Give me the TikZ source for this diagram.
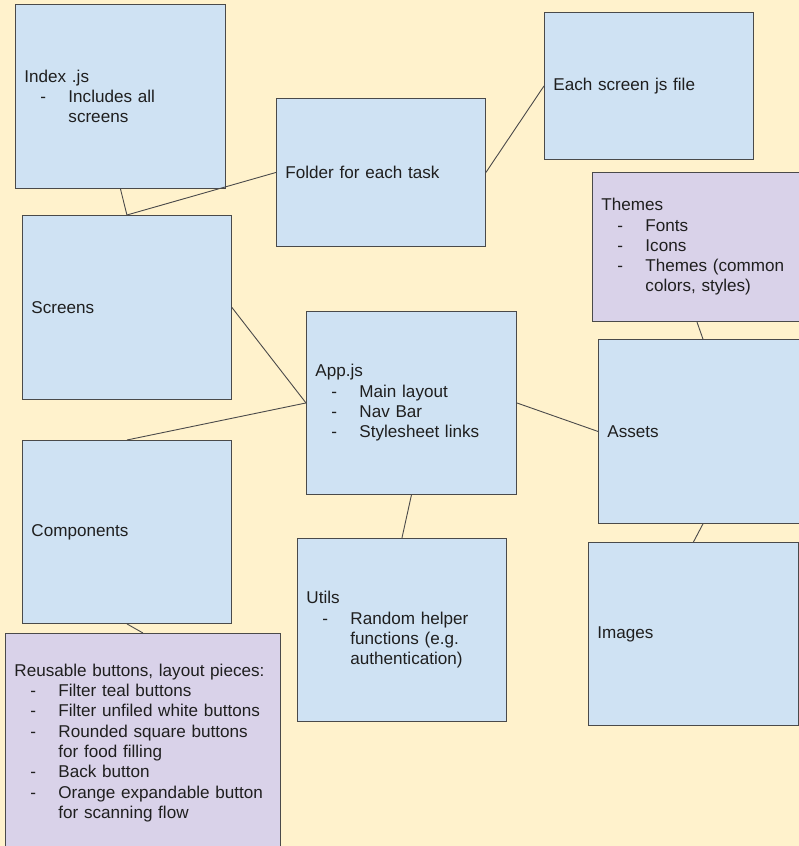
\documentclass[tikz,border=0pt]{standalone}
\usepackage{fontspec}
\setmainfont{Liberation Sans}
\definecolor{bgc}{HTML}{FFF2CC}
\definecolor{bluec}{HTML}{CFE2F3}
\definecolor{purpc}{HTML}{D9D2E9}
\definecolor{bordc}{HTML}{4A4A4A}
\definecolor{linec}{HTML}{4A4A4A}
\definecolor{txtc}{HTML}{1F1F1F}
\newcommand\bitem[1]{\hspace*{16pt}\makebox[28pt][l]{-}#1}
\newcommand\bcont[1]{\hspace*{44pt}#1}
\tikzset{
  bx/.style={draw=bordc, fill=bluec, line width=0.9pt, anchor=north west,
    inner xsep=9pt, inner ysep=0pt, align=left, text=txtc,
    font=\fontsize{17.1}{20.3}\selectfont},
  pbx/.style={bx, fill=purpc},
  ln/.style={draw=linec, line width=0.9pt}
}
\begin{document}
\begin{tikzpicture}[x=1pt,y=-1pt]
\useasboundingbox[fill=bgc] (0,0) rectangle (799,846);
\node[bx, text width=192pt, minimum height=184pt] (index) at (15,4)
  {Index .js\\ \bitem{Includes all}\\ \bcont{screens}};
\node[bx, text width=191pt, minimum height=148pt] (folder) at (276,98)
  {Folder for each task};
\node[bx, text width=191pt, minimum height=147pt] (each) at (544,12)
  {Each screen js file};
\node[bx, text width=191pt, minimum height=184pt] (screens) at (22,215)
  {Screens};
\node[pbx, text width=191pt, minimum height=149pt] (themes) at (592,172)
  {Themes\\ \bitem{Fonts}\\ \bitem{Icons}\\ \bitem{Themes (common}\\ \bcont{colors, styles)}};
\node[bx, text width=192pt, minimum height=183pt] (app) at (306,311)
  {App.js\\ \bitem{Main layout}\\ \bitem{Nav Bar}\\ \bitem{Stylesheet links}};
\node[bx, text width=191pt, minimum height=184pt] (assets) at (598,339)
  {Assets};
\node[bx, text width=191pt, minimum height=183pt] (components) at (22,440)
  {Components};
\node[bx, text width=191pt, minimum height=183pt] (utils) at (297,538)
  {Utils\\ \bitem{Random helper}\\ \bcont{functions (e.g.}\\ \bcont{authentication)}};
\node[bx, text width=192pt, minimum height=183pt] (images) at (588,542)
  {Images};
\node[pbx, text width=257pt, minimum height=219pt] (reuse) at (5,633)
  {Reusable buttons, layout pieces:\\ \bitem{Filter teal buttons}\\ \bitem{Filter unfiled white buttons}\\ \bitem{Rounded square buttons}\\ \bcont{for food filling}\\ \bitem{Back button}\\ \bitem{Orange expandable button}\\ \bcont{for scanning flow}};
\draw[ln] (index.south) -- (screens.north);
\draw[ln] (screens.north) -- (folder.west);
\draw[ln] (folder.east) -- (each.west);
\draw[ln] (screens.east) -- (app.west);
\draw[ln] (app.west) -- (components.north);
\draw[ln] (app.east) -- (assets.west);
\draw[ln] (app.south) -- (utils.north);
\draw[ln] (themes.south) -- (assets.north);
\draw[ln] (assets.south) -- (images.north);
\draw[ln] (components.south) -- (reuse.north);
\end{tikzpicture}
\end{document}
